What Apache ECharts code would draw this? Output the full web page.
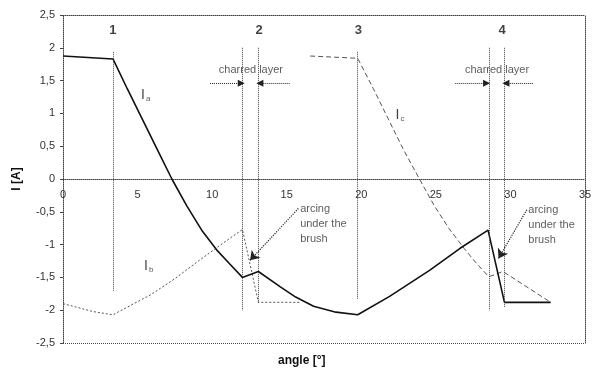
<!DOCTYPE html>
<html><head><meta charset="utf-8">
<script src="https://cdn.jsdelivr.net/npm/echarts@6/dist/echarts.min.js"></script>
<style>html,body{margin:0;padding:0;background:#fff}#c{width:597px;height:374px}</style>
</head><body><div id="c"></div>
<script>
// Series data (angle [deg], current [A])
const iaX = [0, 3.35, 4.3, 5.3, 6.3, 7.3, 8.3, 9.3, 10.3, 11.2, 12.03, 13.1, 14.55, 15.6, 16.8, 18.3, 19.76, 21.9, 24.6, 26.6, 28.5, 29.6, 32.7];
const iaY = [1.875, 1.83, 1.38, 0.92, 0.46, 0.0, -0.41, -0.78, -1.08, -1.3, -1.5, -1.41, -1.64, -1.8, -1.94, -2.03, -2.07, -1.79, -1.39, -1.06, -0.78, -1.88, -1.88];
const ibX = [0, 1, 2, 3.35, 4.5, 5.84, 7.5, 9.2, 10.6, 12.03, 13.1, 15.9];
const ibY = [-1.9, -1.96, -2.02, -2.07, -1.93, -1.77, -1.52, -1.23, -1.0, -0.77, -1.88, -1.88];
const icX = [16.57, 19.76, 20.8, 21.8, 22.8, 23.9, 24.9, 25.9, 26.9, 27.7, 28.55, 29.5, 32.7];
const icY = [1.875, 1.84, 1.38, 0.92, 0.46, 0.0, -0.41, -0.76, -1.06, -1.28, -1.49, -1.41, -1.88];
const xTicks = [0, 5, 10, 15, 20, 25, 30, 35];
const yTicks = [-2.5, -2, -1.5, -1, -0.5, 0, 0.5, 1, 1.5, 2, 2.5];
const markers = [3.35, 12.03, 13.1, 19.76, 28.55, 29.6];
const numLabels = [['1', 3.35], ['2', 13.15], ['3', 19.8], ['4', 29.45]];

const pairs = (xs, ys) => xs.map((x, i) => [x, ys[i]]);
const chart = echarts.init(document.getElementById('c'));
const dotted = {type: 'dotted', color: '#444', width: 1};
const font = 'Arial, "Liberation Sans", sans-serif';

const gridTop = 15, gridBottom = 31, H = 374;
const plotH = H - gridTop - gridBottom;
// offset so the x axis sits at value 0 (ECharts scale: 0 is halfway between -2.5 and 2.5)
const zeroOffset = -plotH * (0 - (-2.5)) / 5;

const vLines = [
  [markers[0], 1.94, -1.72],
  [markers[1], 2.0, -2.0],
  [markers[2], 2.0, -1.89],
  [markers[3], 1.94, -1.84],
  [markers[4], 2.0, -2.0],
  [markers[5], 2.0, -1.95]
].map(v => [{coord: [v[0], v[1]]}, {coord: [v[0], v[2]]}]);

const arrowLines = [
  [[9.86, 1.46], [11.95, 1.46]],
  [[15.2, 1.46], [13.2, 1.46]],
  [[26.3, 1.46], [28.4, 1.46]],
  [[31.5, 1.46], [29.7, 1.46]]
].map(a => [{coord: a[0], symbol: 'none'}, {coord: a[1], symbol: 'triangle'}]);

const slantArrows = [
  [[15.78, -0.45], [12.54, -1.24]],
  [[31.1, -0.47], [29.2, -1.21]]
].map(a => [{coord: a[0], symbol: 'none'}, {coord: a[1], symbol: 'arrow'}]);

const texts = [
  ...numLabels.map(n => ({value: [n[1], 2.26], label: {formatter: n[0], fontWeight: 'bold', fontSize: 13, color: '#111'}})),
  {value: [12.6, 1.66], label: {formatter: 'charred layer', fontSize: 11, color: '#333'}},
  {value: [29.1, 1.66], label: {formatter: 'charred layer', fontSize: 11, color: '#333'}},
  {value: [15.9, -0.68], label: {formatter: 'arcing\nunder the\nbrush', align: 'left', fontSize: 11, lineHeight: 15, color: '#333'}},
  {value: [31.2, -0.7], label: {formatter: 'arcing\nunder the\nbrush', align: 'left', fontSize: 11, lineHeight: 15, color: '#333'}},
  {value: [5.55, 1.28], label: {formatter: '{i|I}{s|a}'}},
  {value: [5.75, -1.33], label: {formatter: '{i|I}{s|b}'}},
  {value: [22.6, 0.98], label: {formatter: '{i|I}{s|c}'}}
];

chart.setOption({
  animation: false,
  backgroundColor: '#fff',
  textStyle: {fontFamily: font},
  grid: {left: 63, right: 12, top: gridTop, bottom: gridBottom, containLabel: false, outerBoundsMode: 'none'},
  xAxis: [{
    type: 'value', position: 'bottom', offset: zeroOffset, min: 0, max: 35, interval: 5,
    axisLine: {onZero: false, lineStyle: dotted},
    axisTick: {show: false},
    axisLabel: {fontSize: 11, color: '#333', margin: 10,
      formatter: v => xTicks.includes(v) ? String(v) : ''},
    splitLine: {show: false}
  }, {
    type: 'value', position: 'top', min: 0, max: 35, interval: 5,
    axisLine: {onZero: false, lineStyle: dotted},
    axisTick: {show: false}, axisLabel: {show: false}, splitLine: {show: false}
  }],
  yAxis: [{
    type: 'value', min: -2.5, max: 2.5, interval: 0.5,
    name: 'I [A]', nameLocation: 'middle', nameGap: 40,
    nameTextStyle: {fontWeight: 'bold', fontSize: 12, color: '#111'},
    axisLine: {onZero: false, lineStyle: dotted},
    axisTick: {show: true, length: 3, lineStyle: {color: '#444'}},
    axisLabel: {fontSize: 11, color: '#333', margin: 8,
      formatter: v => yTicks.includes(v) ? String(v).replace('.', ',') : ''},
    splitLine: {show: false}
  }, {
    type: 'value', position: 'right', min: -2.5, max: 2.5, interval: 0.5,
    axisLine: {onZero: false, lineStyle: dotted},
    axisTick: {show: false}, axisLabel: {show: false}, splitLine: {show: false}
  }],
  graphic: [{
    type: 'text', left: 278, top: 355,
    style: {text: 'angle [°]', font: 'bold 12px Arial, "Liberation Sans", sans-serif', fill: '#111'}
  }],
  series: [
    {
      type: 'line', name: 'Ib', data: pairs(ibX, ibY), showSymbol: false, smooth: false,
      lineStyle: {color: '#555', width: 1, type: [2, 2]},
      markLine: {silent: true, symbol: 'none', label: {show: false},
        lineStyle: {type: 'dotted', color: '#444', width: 1},
        data: [[{coord: [0, -2.5]}, {coord: [35, -2.5]}], ...vLines]}
    },
    {
      type: 'line', name: 'Ic', data: pairs(icX, icY), showSymbol: false,
      lineStyle: {color: '#555', width: 1, type: [5, 3]},
      markLine: {silent: true, symbolSize: 7, label: {show: false},
        lineStyle: {type: 'dotted', color: '#222', width: 1},
        data: arrowLines}
    },
    {
      type: 'line', name: 'Ia', data: pairs(iaX, iaY), showSymbol: false,
      lineStyle: {color: '#111', width: 1.6, type: 'solid'},
      markLine: {silent: true, symbolSize: 9, label: {show: false},
        lineStyle: {type: 'dotted', color: '#222', width: 1.2},
        data: slantArrows}
    },
    {
      type: 'scatter', data: texts, symbolSize: 0, silent: true,
      label: {show: true, position: 'inside', fontFamily: font,
        rich: {i: {fontSize: 14, color: '#111'}, s: {fontSize: 8, color: '#333', verticalAlign: 'bottom', padding: [8, 0, 0, 1]}}}
    }
  ]
});
</script></body></html>
